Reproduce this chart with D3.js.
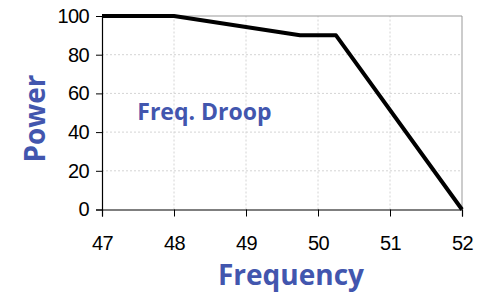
<!DOCTYPE html>
<html>
<head>
<meta charset="utf-8">
<script src="https://cdn.jsdelivr.net/npm/d3@7"></script>
<style>
  body { margin: 0; background: #fff; }
</style>
</head>
<body>
<div id="chart"></div>
<script>
// Droop curve (frequency -> power)
const freq = [47, 48, 49.75, 50.25, 52];
const power = [100, 100, 90, 90, 0];
const xTicks = [47, 48, 49, 50, 51, 52];
const yTicks = [0, 20, 40, 60, 80, 100];

const width = 481, height = 293;
const margin = { top: 16, right: 19, bottom: 84, left: 102 };
const blue = "#4256AE";

const svg = d3.select("#chart")
    .append("svg")
    .attr("width", width)
    .attr("height", height);

const xScale = d3.scaleLinear().domain([47, 52]).range([margin.left, width - margin.right]);
const yScale = d3.scaleLinear().domain([0, 100]).range([height - margin.bottom + 0.5, margin.top]);

// gridlines
svg.append("g")
    .selectAll("line")
    .data(xTicks.slice(1, -1))
    .join("line")
    .attr("x1", d => xScale(d)).attr("x2", d => xScale(d))
    .attr("y1", yScale(0)).attr("y2", yScale(100))
    .attr("stroke", "#d4d4d4")
    .attr("stroke-dasharray", "2,2");

svg.append("g")
    .selectAll("line")
    .data(yTicks.slice(1, -1))
    .join("line")
    .attr("x1", xScale(47)).attr("x2", xScale(52))
    .attr("y1", d => yScale(d)).attr("y2", d => yScale(d))
    .attr("stroke", "#d4d4d4")
    .attr("stroke-dasharray", "2,2");

// top and right border
svg.append("path")
    .attr("d", `M${xScale(47)},${yScale(100)}H${xScale(52)}V${yScale(0)}`)
    .attr("fill", "none")
    .attr("stroke", "#999");

// axes
const xAxis = svg.append("g")
    .attr("transform", `translate(0,${yScale(0)})`)
    .call(d3.axisBottom(xScale).tickValues(xTicks).tickSize(7).tickPadding(19).tickFormat(d3.format("d")));

const yAxis = svg.append("g")
    .attr("transform", `translate(${xScale(47)},0)`)
    .call(d3.axisLeft(yScale).tickValues(yTicks).tickSize(6).tickPadding(7));

[xAxis, yAxis].forEach(a => {
    a.select(".domain").attr("stroke", "#000").attr("stroke-width", 1.2);
    a.selectAll(".tick line").attr("stroke", "#000");
    a.selectAll("text")
        .attr("fill", "#000")
        .style("font-family", "'Liberation Sans', Arial, sans-serif")
        .style("font-size", "20px")
        .style("letter-spacing", "-0.6px");
});

// droop line
const line = d3.line()
    .x((d, i) => xScale(freq[i]))
    .y(d => yScale(d));

svg.append("path")
    .datum(power)
    .attr("fill", "none")
    .attr("stroke", "#000")
    .attr("stroke-width", 4)
    .attr("stroke-linejoin", "round")
    .attr("d", line);

// labels
const labelFont = "'Open Sans', sans-serif";

svg.append("text")
    .attr("x", xScale(47.49))
    .attr("y", yScale(46.4))
    .attr("fill", blue)
    .style("font-family", labelFont)
    .style("font-weight", "bold")
    .style("font-size", "23px")
    .text("Freq. Droop");

svg.append("text")
    .attr("x", 291)
    .attr("y", 285)
    .attr("text-anchor", "middle")
    .attr("fill", blue)
    .style("font-family", labelFont)
    .style("font-weight", "bold")
    .style("font-size", "28px")
    .text("Frequency");

svg.append("text")
    .attr("transform", "translate(45,118.5) rotate(-90)")
    .attr("text-anchor", "middle")
    .attr("fill", blue)
    .style("font-family", labelFont)
    .style("font-weight", "bold")
    .style("font-size", "28px")
    .text("Power");
</script>
</body>
</html>
